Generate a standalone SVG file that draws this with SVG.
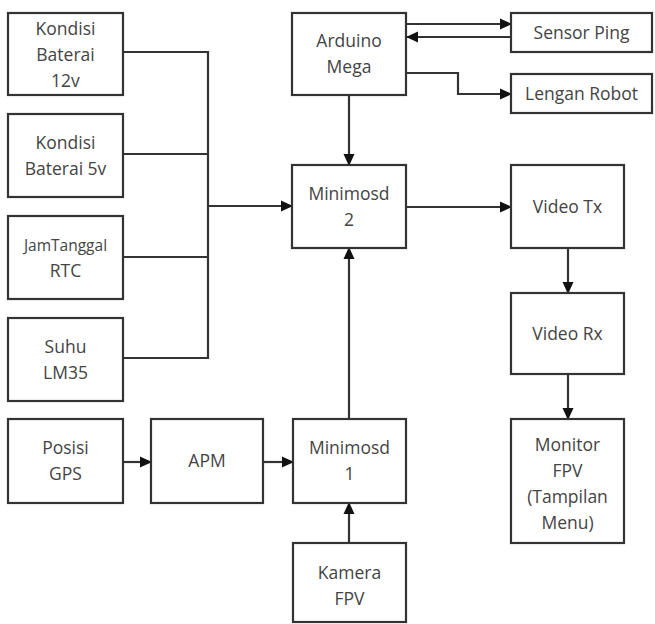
<svg xmlns="http://www.w3.org/2000/svg" width="655" height="624" viewBox="0 0 655 624">
<style>
.b{fill:#fff;stroke:#333;stroke-width:2.2}
.t{font-family:"Open Sans",sans-serif;font-size:17.5px;fill:#444;text-anchor:middle}
.c{fill:none;stroke:#333;stroke-width:2.2}
</style>
<defs>
<marker id="a" markerWidth="12" markerHeight="12" refX="11" refY="6" orient="auto" markerUnits="userSpaceOnUse">
<path d="M0,0.5 L12,6 L0,11.5 z" fill="#111"/>
</marker>
</defs>
<rect width="655" height="624" fill="#fff"/>
<g id="connectors">
<path class="c" d="M123,52 H208 V358 H123"/>
<path class="c" d="M123,154 H208"/>
<path class="c" d="M123,257 H208"/>
<path class="c" d="M208,206 H292" marker-end="url(#a)"/>
<path class="c" d="M406,24 H511" marker-end="url(#a)"/>
<path class="c" d="M511,37 H407" marker-end="url(#a)"/>
<path class="c" d="M406,73 H458 V94 H511" marker-end="url(#a)"/>
<path class="c" d="M349,95 V165" marker-end="url(#a)"/>
<path class="c" d="M406,207 H511" marker-end="url(#a)"/>
<path class="c" d="M568,248 V293" marker-end="url(#a)"/>
<path class="c" d="M568,374 V419" marker-end="url(#a)"/>
<path class="c" d="M123,462 H151" marker-end="url(#a)"/>
<path class="c" d="M263,462 H293" marker-end="url(#a)"/>
<path class="c" d="M349,419 V248" marker-end="url(#a)"/>
<path class="c" d="M349,543 V503" marker-end="url(#a)"/>
</g>
<g id="bat12"><rect class="b" x="8" y="13" width="115" height="82"/><text class="t" x="65.5" y="35">Kondisi</text><text class="t" x="65.5" y="61">Baterai</text><text class="t" x="65.5" y="87">12v</text></g>
<g id="bat5"><rect class="b" x="8" y="114" width="115" height="83"/><text class="t" x="65.5" y="149">Kondisi</text><text class="t" x="65.5" y="175">Baterai 5v</text></g>
<g id="rtc"><rect class="b" x="8" y="216" width="115" height="83"/><text class="t" x="65.5" y="251" style="font-size:15.5px">JamTanggal</text><text class="t" x="65.5" y="277">RTC</text></g>
<g id="suhu"><rect class="b" x="8" y="318" width="115" height="83"/><text class="t" x="65.5" y="353">Suhu</text><text class="t" x="65.5" y="379">LM35</text></g>
<g id="gps"><rect class="b" x="8" y="419" width="115" height="84"/><text class="t" x="65.5" y="454">Posisi</text><text class="t" x="65.5" y="480">GPS</text></g>
<g id="apm"><rect class="b" x="151" y="419" width="112" height="84"/><text class="t" x="207" y="467">APM</text></g>
<g id="osd1"><rect class="b" x="293" y="419" width="113" height="84"/><text class="t" x="349.5" y="454">Minimosd</text><text class="t" x="349.5" y="480">1</text></g>
<g id="kamera"><rect class="b" x="293" y="543" width="113" height="79"/><text class="t" x="349.5" y="579">Kamera</text><text class="t" x="349.5" y="605">FPV</text></g>
<g id="arduino"><rect class="b" x="292" y="13" width="114" height="82"/><text class="t" x="349" y="47">Arduino</text><text class="t" x="349" y="73">Mega</text></g>
<g id="osd2"><rect class="b" x="292" y="165" width="114" height="83"/><text class="t" x="349" y="200">Minimosd</text><text class="t" x="349" y="226">2</text></g>
<g id="ping"><rect class="b" x="511" y="13" width="141" height="39"/><text class="t" x="581.5" y="39">Sensor Ping</text></g>
<g id="lengan"><rect class="b" x="511" y="74" width="141" height="39"/><text class="t" x="581.5" y="100">Lengan Robot</text></g>
<g id="vtx"><rect class="b" x="511" y="165" width="113" height="83"/><text class="t" x="567.5" y="213">Video Tx</text></g>
<g id="vrx"><rect class="b" x="511" y="293" width="113" height="81"/><text class="t" x="567.5" y="340">Video Rx</text></g>
<g id="monitor"><rect class="b" x="511" y="419" width="113" height="124"/><text class="t" x="567.5" y="451">Monitor</text><text class="t" x="567.5" y="477">FPV</text><text class="t" x="567.5" y="503">(Tampilan</text><text class="t" x="567.5" y="529">Menu)</text></g>
</svg>
